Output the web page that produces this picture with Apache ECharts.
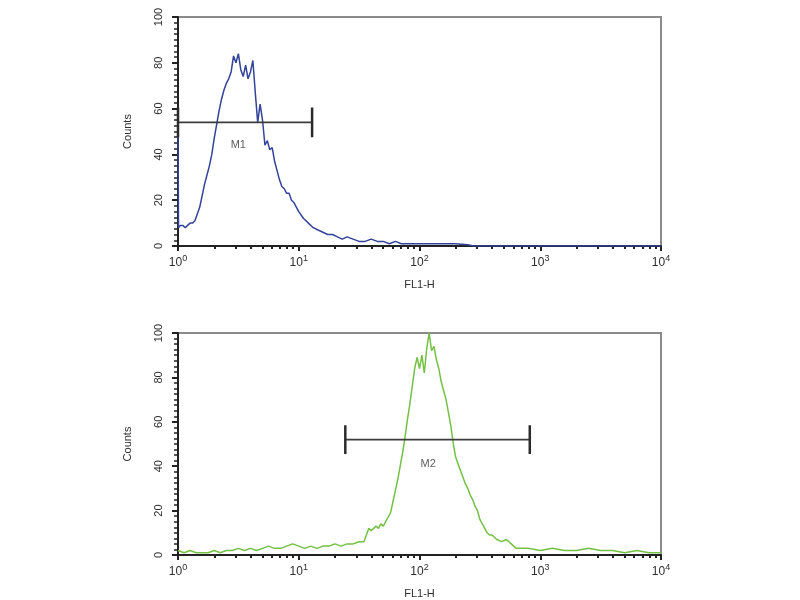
<!DOCTYPE html>
<html>
<head>
<meta charset="utf-8">
<script src="https://cdn.jsdelivr.net/npm/echarts@6/dist/echarts.min.js"></script>
<style>
html,body{margin:0;padding:0;background:#fff;}
#chart{width:800px;height:600px;}
</style>
</head>
<body>
<div id="chart"></div>
<script>
// ---- Data ----
// Top panel histogram (blue): FL1-H value and counts
var topX = [1, 1.01, 1.047, 1.096, 1.148, 1.202, 1.259, 1.318, 1.380, 1.445, 1.514, 1.585, 1.660, 1.738, 1.820, 1.905, 1.995, 2.089, 2.188, 2.291, 2.399, 2.512, 2.630, 2.754, 2.884, 3.020, 3.162, 3.311, 3.467, 3.631, 3.802, 3.981, 4.169, 4.365, 4.571, 4.786, 5.012, 5.248, 5.495, 5.754, 6.026, 6.310, 6.607, 6.918, 7.244, 7.586, 7.943, 8.318, 8.710, 9.120, 9.550, 10, 10.96, 12.02, 13.18, 14.45, 15.85, 17.38, 19.05, 20.89, 22.91, 25.12, 28.18, 31.62, 35.48, 39.81, 44.67, 50.12, 56.23, 63.10, 70.79, 79.43, 89.13, 100, 125.9, 158.5, 199.5, 251.2, 281.8, 10000];
var topCounts = [53, 8, 9, 9, 8, 9, 10, 10, 11, 14, 17, 22, 27, 31, 35, 40, 47, 53, 59, 64, 68, 71, 73, 76, 83, 80, 84, 77, 74, 79, 73, 76, 81, 67, 54, 62, 55, 44, 46, 42, 43, 37, 33, 29, 26, 25, 23, 23, 20, 19, 17, 15, 12, 10, 8, 7, 6, 5, 5, 4, 3, 4, 3, 2, 2, 3, 2, 2, 1, 2, 1, 1, 1, 1, 1, 1, 1, 0.5, 0, 0];

// Bottom panel histogram (green)
var botX = [1, 1.122, 1.259, 1.413, 1.585, 1.778, 1.995, 2.239, 2.512, 2.818, 3.162, 3.548, 3.981, 4.467, 5.012, 5.623, 6.310, 7.079, 7.943, 8.913, 10, 11.22, 12.59, 14.13, 15.85, 17.78, 19.95, 22.39, 25.12, 28.18, 31.62, 34.67, 36.31, 38.02, 39.81, 41.69, 43.65, 45.71, 47.86, 50.12, 52.48, 54.95, 57.54, 60.26, 63.10, 66.07, 69.18, 72.44, 75.86, 79.43, 83.18, 87.10, 91.20, 95.50, 100, 104.7, 109.6, 114.8, 120.2, 125.9, 131.8, 138.0, 144.5, 151.4, 158.5, 166.0, 173.8, 182.0, 190.5, 199.5, 208.9, 218.8, 229.1, 239.9, 251.2, 263.0, 275.4, 288.4, 302.0, 316.2, 331.1, 346.7, 363.1, 380.2, 398.1, 436.5, 478.6, 524.8, 575.4, 631.0, 707.9, 794.3, 1000, 1259, 1585, 1995, 2512, 3162, 3981, 5012, 6310, 7943, 10000];
var botCounts = [2, 1, 2, 1, 1, 1, 2, 1, 2, 2, 3, 2, 3, 2, 3, 4, 3, 3, 4, 5, 4, 3, 4, 3, 4, 4, 5, 4, 5, 5, 6, 6, 9, 12, 11, 12, 13, 12, 14, 13, 15, 17, 19, 24, 29, 34, 40, 46, 53, 61, 68, 76, 84, 89, 84, 90, 82, 93, 100, 92, 94, 88, 84, 78, 74, 70, 64, 58, 50, 44, 41, 38, 35, 32, 30, 27, 25, 22, 20, 16, 14, 12, 10, 9, 9, 7, 6, 7, 5, 3, 3, 3, 2, 3, 2, 2, 3, 2, 2, 1, 2, 1, 1];

// Gate markers
var m1Range = [1, 12.9];
var m1Level = 54;
var m1LabelPos = [3.16, 44];
var m2Range = [24.3, 819];
var m2Level = 52;
var m2LabelPos = [118, 41];
var gateHalf = 6.5;

// Tick labels
var yTicks = [0, 20, 40, 60, 80, 100];
var xDecades = [1, 10, 100, 1000, 10000];
var xTitle = 'FL1-H';
var yTitle = 'Counts';

// ---- Build chart ----
function zip(xs, ys) { return xs.map(function (x, i) { return [x, ys[i]]; }); }

var minorLogTicks = [];
for (var d = 0; d < 4; d++) {
  for (var k = 2; k <= 9; k++) minorLogTicks.push(d + Math.log10(k));
}

var txt = '#2e2e2e';
var font = 'Liberation Sans, Arial, sans-serif';

var grids = [
  { left: 178, top: 17, width: 483, height: 229 },
  { left: 178, top: 333, width: 483, height: 223 }
];

var xAxes = [], yAxes = [];
grids.forEach(function (g, i) {
  g.show = true;
  g.borderColor = '#8a8a8a';
  g.borderWidth = 2;
  g.backgroundColor = '#fff';
  g.containLabel = false;
  xAxes.push({
    type: 'log', logBase: 10, gridIndex: i, min: 1, max: 10000,
    name: xTitle, nameLocation: 'middle', nameGap: 33,
    nameTextStyle: { color: txt, fontSize: 11, fontFamily: font },
    axisLine: { show: true, lineStyle: { color: '#222', width: 2 } },
    axisTick: { show: true, length: 5, lineStyle: { color: '#222', width: 2 } },
    splitLine: { show: false },
    minorTick: { show: false },
    axisLabel: {
      margin: 8, color: txt, fontFamily: font,
      formatter: function (v) {
        var e = Math.round(Math.log10(v));
        return '{b|10}{s|' + e + '}';
      },
      rich: {
        b: { fontSize: 12, color: txt, fontFamily: font },
        s: { fontSize: 9, color: txt, fontFamily: font, padding: [0, 0, 8, 0] }
      }
    }
  });
  xAxes.push({
    type: 'value', gridIndex: i, min: 0, max: 4, position: 'bottom',
    axisLine: { show: false },
    axisLabel: { show: false },
    splitLine: { show: false },
    axisTick: { show: true, length: 3, customValues: minorLogTicks, lineStyle: { color: '#222', width: 2 } }
  });
  yAxes.push({
    type: 'value', gridIndex: i, min: 0, max: 100, interval: 20,
    name: yTitle, nameLocation: 'middle', nameGap: 45,
    nameTextStyle: { color: txt, fontSize: 11, fontFamily: font },
    axisLine: { show: true, lineStyle: { color: '#222', width: 2 } },
    axisTick: { show: true, length: 6, lineStyle: { color: '#222', width: 2 } },
    minorTick: { show: true, splitNumber: 8, length: 4, lineStyle: { color: '#222', width: 1.5 } },
    splitLine: { show: false },
    axisLabel: {
      rotate: 90, margin: 14, color: txt, fontSize: 11, fontFamily: font,
      customValues: yTicks
    }
  });
});

function gateSeries(gi, range, level, labelPos, name) {
  var xa = gi * 2;
  var lineStyleBar = { color: '#2b2b2b', width: 2.5 };
  return [
    {
      type: 'line', xAxisIndex: xa, yAxisIndex: gi, showSymbol: false, silent: true,
      data: [[range[0], level], [range[1], level]],
      lineStyle: { color: '#3c3c3c', width: 1.8 }, z: 5
    },
    {
      type: 'line', xAxisIndex: xa, yAxisIndex: gi, showSymbol: false, silent: true,
      data: [[range[0], level - gateHalf], [range[0], level + gateHalf]],
      lineStyle: lineStyleBar, z: 5
    },
    {
      type: 'line', xAxisIndex: xa, yAxisIndex: gi, showSymbol: false, silent: true,
      data: [[range[1], level - gateHalf], [range[1], level + gateHalf]],
      lineStyle: lineStyleBar, z: 5
    },
    {
      type: 'scatter', xAxisIndex: xa, yAxisIndex: gi, symbolSize: 0, silent: true,
      data: [labelPos],
      label: { show: true, position: 'inside', formatter: name, color: '#333', fontSize: 11, fontFamily: font },
      z: 6
    }
  ];
}

var series = [
  {
    type: 'line', xAxisIndex: 0, yAxisIndex: 0, showSymbol: false, silent: true,
    data: zip(topX, topCounts),
    lineStyle: { color: '#33439a', width: 1.5 }, z: 4
  },
  {
    type: 'line', xAxisIndex: 2, yAxisIndex: 1, showSymbol: false, silent: true,
    data: zip(botX, botCounts),
    lineStyle: { color: '#74c044', width: 1.5 }, z: 4
  }
].concat(gateSeries(0, m1Range, m1Level, m1LabelPos, 'M1'))
 .concat(gateSeries(1, m2Range, m2Level, m2LabelPos, 'M2'));

var chart = echarts.init(document.getElementById('chart'), null, { renderer: 'canvas' });
chart.setOption({
  animation: false,
  backgroundColor: '#fff',
  grid: grids,
  xAxis: xAxes,
  yAxis: yAxes,
  series: series
});
</script>
</body>
</html>
